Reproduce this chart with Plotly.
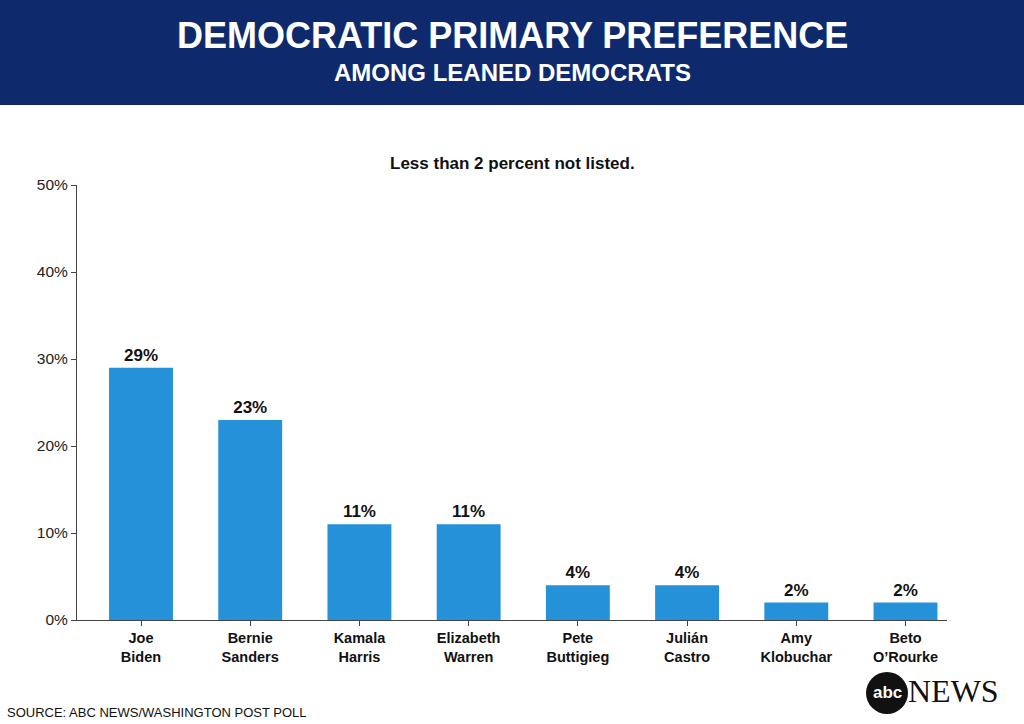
import plotly.graph_objects as go

candidates = ["Joe<br>Biden", "Bernie<br>Sanders", "Kamala<br>Harris", "Elizabeth<br>Warren",
              "Pete<br>Buttigieg", "Julián<br>Castro", "Amy<br>Klobuchar", "Beto<br>O’Rourke"]
values = [29, 23, 11, 11, 4, 4, 2, 2]
value_labels = ["29%", "23%", "11%", "11%", "4%", "4%", "2%", "2%"]
y_ticks = [0, 10, 20, 30, 40, 50]
y_tick_labels = ["0%", "10%", "20%", "30%", "40%", "50%"]

W, H = 1024, 724
ML, MR, MT, MB = 77, 77, 185, 104

fig = go.Figure()
fig.add_trace(go.Bar(
    x=list(range(len(candidates))), y=values,
    marker=dict(color="#2491d9", line=dict(width=0)),
    width=0.585,
    text=["<b>%s</b>" % v for v in value_labels], textposition="outside",
    textfont=dict(family="Liberation Sans, Arial", size=17, color="#111111"),
    cliponaxis=False,
))

fig.update_layout(
    width=W, height=H,
    margin=dict(l=ML, r=MR, t=MT, b=MB, autoexpand=False),
    paper_bgcolor="white", plot_bgcolor="white",
    showlegend=False,
    xaxis=dict(
        range=[-0.586, 7.38], tickmode="array",
        tickvals=list(range(len(candidates))),
        ticktext=["<b>%s</b>" % c for c in candidates],
        showline=True, linecolor="#444444", linewidth=1,
        ticks="outside", ticklen=5, tickcolor="#444444",
        showgrid=False, zeroline=False,
        tickfont=dict(family="Liberation Sans, Arial", size=14.5, color="#111111"),
    ),
    yaxis=dict(
        range=[0, 50], tickmode="array", tickvals=y_ticks, ticktext=y_tick_labels,
        showline=True, linecolor="#444444", linewidth=1,
        ticks="outside", ticklen=5, tickcolor="#444444",
        showgrid=False, zeroline=False,
        tickfont=dict(family="Liberation Sans, Arial", size=15.5, color="#222222"),
    ),
)

def py(px):
    return (H - MB - px) / (H - MT - MB)

def px_x(px):
    return (px - ML) / (W - ML - MR)

fig.add_shape(type="rect", xref="paper", yref="paper", x0=px_x(-5), x1=px_x(W + 5),
              y0=py(105), y1=py(-5), fillcolor="#0e2a6c", line=dict(width=0), layer="below")

fig.add_annotation(text="<b>DEMOCRATIC PRIMARY PREFERENCE</b>", xref="paper", yref="paper",
                   x=px_x(512), y=py(36), xanchor="center", yanchor="middle", showarrow=False,
                   font=dict(family="Liberation Sans, Arial", size=36, color="white"))
fig.add_annotation(text="<b>AMONG LEANED DEMOCRATS</b>", xref="paper", yref="paper",
                   x=px_x(512), y=py(72), xanchor="center", yanchor="middle", showarrow=False,
                   font=dict(family="Liberation Sans, Arial", size=24, color="white"))
fig.add_annotation(text="<b>Less than 2 percent not listed.</b>", xref="paper", yref="paper",
                   x=px_x(512), y=py(163), xanchor="center", yanchor="middle", showarrow=False,
                   font=dict(family="Liberation Sans, Arial", size=17, color="#111111"))
fig.add_annotation(text="SOURCE: ABC NEWS/WASHINGTON POST POLL", xref="paper", yref="paper",
                   x=px_x(5), y=py(712), xanchor="left", yanchor="middle", showarrow=False,
                   font=dict(family="Liberation Sans, Arial", size=13, color="#111111"))

# abc NEWS logo
cx, cy, r = 887, 693, 21
fig.add_shape(type="circle", xref="paper", yref="paper",
              x0=px_x(cx - r), x1=px_x(cx + r), y0=py(cy + r), y1=py(cy - r),
              fillcolor="#111111", line=dict(width=0))
fig.add_annotation(text="<b>abc</b>", xref="paper", yref="paper", x=px_x(cx), y=py(cy - 1),
                   xanchor="center", yanchor="middle", showarrow=False,
                   font=dict(family="Liberation Sans, Arial", size=17, color="white"))
fig.add_annotation(text="NEWS", xref="paper", yref="paper", x=px_x(906), y=py(691),
                   xanchor="left", yanchor="middle", showarrow=False,
                   font=dict(family="Liberation Serif, DejaVu Serif", size=32, color="#111111"))

fig.write_html("out.html", config={"displayModeBar": False},
               post_script="document.body.style.margin='0';document.body.style.overflow='hidden';")
